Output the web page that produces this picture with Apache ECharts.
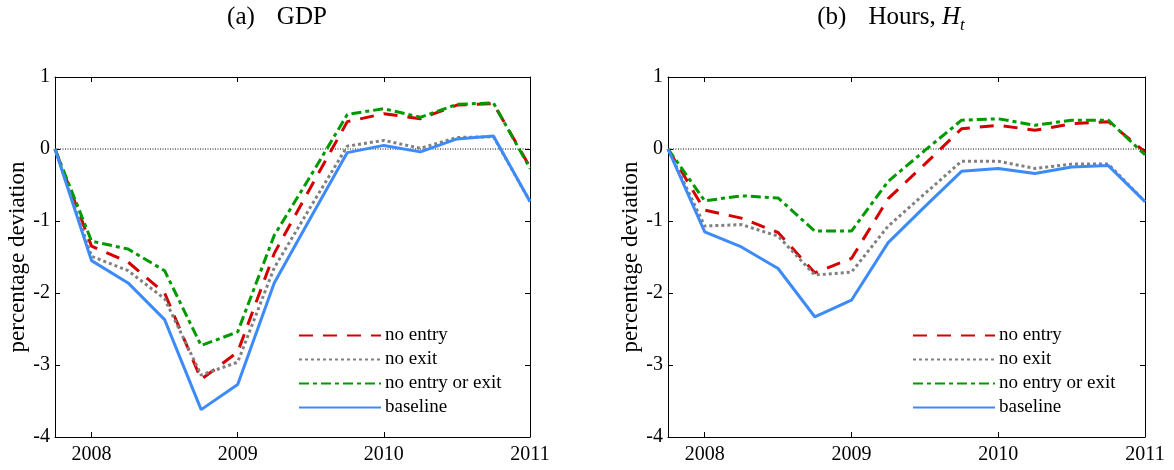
<!DOCTYPE html>
<html>
<head>
<meta charset="utf-8">
<script src="https://cdn.jsdelivr.net/npm/echarts@6/dist/echarts.min.js"></script>
<style>
  html, body { margin: 0; padding: 0; background: #fff; }
  #chart { width: 1174px; height: 470px; }
</style>
</head>
<body>
<div id="chart"></div>
<script>
// quarters, 2007Q4 .. 2011Q1
const quarters = [2007.75, 2008, 2008.25, 2008.5, 2008.75, 2009, 2009.25, 2009.5, 2009.75, 2010, 2010.25, 2010.5, 2010.75, 2011];
const yearTicks = [2008, 2009, 2010, 2011];

// (a) GDP
const gdpNoEntry     = [0, -1.35, -1.57, -2.00, -3.20, -2.82, -1.45, -0.53, 0.38, 0.49, 0.42, 0.61, 0.63, -0.25];
const gdpNoExit      = [0, -1.49, -1.69, -2.08, -3.14, -2.96, -1.65, -0.80, 0.04, 0.12, 0.01, 0.16, 0.17, -0.73];
const gdpNoEntryExit = [0, -1.28, -1.39, -1.69, -2.73, -2.54, -1.20, -0.37, 0.48, 0.56, 0.44, 0.62, 0.64, -0.27];
const gdpBaseline    = [0, -1.55, -1.86, -2.37, -3.62, -3.27, -1.86, -0.95, -0.05, 0.05, -0.04, 0.14, 0.18, -0.73];

// (b) Hours
const hrsNoEntry     = [0, -0.85, -0.96, -1.16, -1.72, -1.52, -0.69, -0.21, 0.28, 0.33, 0.26, 0.35, 0.38, -0.04];
const hrsNoExit      = [0, -1.07, -1.05, -1.21, -1.75, -1.71, -1.07, -0.62, -0.17, -0.17, -0.27, -0.21, -0.21, -0.73];
const hrsNoEntryExit = [0, -0.72, -0.65, -0.68, -1.14, -1.14, -0.45, -0.02, 0.40, 0.42, 0.33, 0.40, 0.40, -0.08];
const hrsBaseline    = [0, -1.15, -1.36, -1.66, -2.33, -2.10, -1.30, -0.80, -0.31, -0.27, -0.34, -0.25, -0.23, -0.73];

const names = ["no entry", "no exit", "no entry or exit", "baseline"];
const FONT = "'Liberation Serif', 'DejaVu Serif', serif";

const styles = [
  { color: "#d40000", type: [14, 10] },
  { color: "#808080", type: [3, 3] },
  { color: "#009a00", type: [10, 4, 4, 4] },
  { color: "#3d8bf8", type: "solid" },
];

const pair = (ys) => quarters.map((x, i) => [x, ys[i]]);

function makeSeries(gi, sets) {
  const out = [{
    name: "zero",
    type: "line",
    xAxisIndex: gi * 2,
    yAxisIndex: gi * 2,
    data: [[quarters[0], 0], [quarters[quarters.length - 1], 0]],
    symbol: "none",
    silent: true,
    lineStyle: { color: "#000", width: 1, type: [1, 1.5] },
    z: 1,
  }];
  sets.forEach((ys, i) => {
    out.push({
      name: names[i],
      type: "line",
      xAxisIndex: gi * 2,
      yAxisIndex: gi * 2,
      data: pair(ys),
      symbol: "none",
      color: styles[i].color,
      lineStyle: { color: styles[i].color, width: 3, type: styles[i].type, cap: "butt" },
      z: 2 + i,
    });
  });
  return out;
}

function xAxes(gi) {
  const base = {
    type: "value",
    gridIndex: gi,
    min: quarters[0],
    max: quarters[quarters.length - 1],
    splitLine: { show: false },
    axisLine: { show: true, onZero: false, lineStyle: { color: "#000", width: 1 } },
    axisTick: { show: true, inside: true, length: 5, customValues: yearTicks, lineStyle: { color: "#000" } },
  };
  return [
    Object.assign({}, base, {
      position: "bottom",
      axisLabel: { customValues: yearTicks, color: "#000", fontFamily: FONT, fontSize: 20, margin: 8, formatter: (v) => String(v) },
    }),
    Object.assign({}, base, { position: "top", axisLabel: { show: false } }),
  ];
}

function yAxes(gi) {
  const base = {
    type: "value",
    gridIndex: gi,
    min: -4,
    max: 1,
    interval: 1,
    splitLine: { show: false },
    axisLine: { show: true, onZero: false, lineStyle: { color: "#000", width: 1 } },
    axisTick: { show: true, inside: true, length: 5, lineStyle: { color: "#000" } },
  };
  return [
    Object.assign({}, base, {
      position: "left",
      name: "percentage deviation",
      nameLocation: "middle",
      nameGap: 26,
      nameTextStyle: { color: "#000", fontFamily: FONT, fontSize: 23 },
      axisLabel: { color: "#000", fontFamily: FONT, fontSize: 20, margin: 5 },
    }),
    Object.assign({}, base, { position: "right", axisLabel: { show: false } }),
  ];
}

function legend(left) {
  return {
    data: names,
    orient: "vertical",
    left: left,
    top: 326,
    itemWidth: 82,
    itemHeight: 14,
    itemGap: 5,
    padding: 0,
    itemStyle: { opacity: 0 },
    textStyle: { color: "#000", fontFamily: FONT, fontSize: 19, padding: [0, 0, 0, -1] },
  };
}

const chart = echarts.init(document.getElementById("chart"));
chart.setOption({
  animation: false,
  backgroundColor: "#fff",
  graphic: [
    {
      type: "text",
      x: 277, y: 5,
      style: {
        text: "{a|(a)}{g|GDP}",
        align: "center",
        fill: "#000",
        rich: {
          a: { fontFamily: FONT, fontSize: 25, fill: "#000" },
          g: { fontFamily: FONT, fontSize: 25, fill: "#000", padding: [0, 0, 0, 22] },
        },
      },
    },
    {
      type: "text",
      x: 891, y: 5,
      style: {
        text: "{a|(b)}{g|Hours, }{h|H}{t|t}",
        align: "center",
        fill: "#000",
        rich: {
          a: { fontFamily: FONT, fontSize: 25, fill: "#000", verticalAlign: "top" },
          g: { fontFamily: FONT, fontSize: 25, fill: "#000", padding: [0, 0, 0, 22], verticalAlign: "top" },
          h: { fontFamily: FONT, fontSize: 25, fontStyle: "italic", fill: "#000", verticalAlign: "top" },
          t: { fontFamily: FONT, fontSize: 17, fontStyle: "italic", fill: "#000", verticalAlign: "top", padding: [12, 0, 0, 0] },
        },
      },
    },
  ],
  grid: [
    { left: 55, right: 644, top: 77, bottom: 33 },
    { left: 668, right: 29, top: 77, bottom: 33 },
  ],
  xAxis: [...xAxes(0), ...xAxes(1)],
  yAxis: [...yAxes(0), ...yAxes(1)],
  legend: [legend(298), legend(912)],
  series: [
    ...makeSeries(0, [gdpNoEntry, gdpNoExit, gdpNoEntryExit, gdpBaseline]),
    ...makeSeries(1, [hrsNoEntry, hrsNoExit, hrsNoEntryExit, hrsBaseline]),
  ],
});
</script>
</body>
</html>
